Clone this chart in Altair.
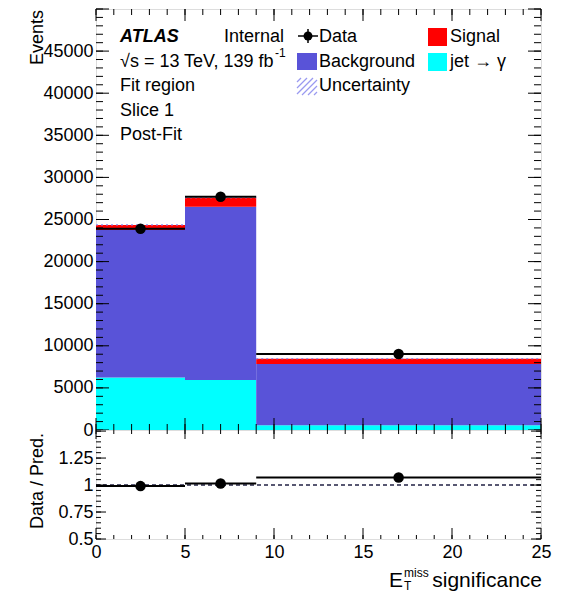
import altair as alt
import pandas as pd
import numpy as np

# ---------------- data ----------------
bin_lo = [0, 5, 9]
bin_hi = [5, 9, 25]
bin_mid = [2.5, 7.0, 17.0]
jet_gamma = [6250, 5940, 560]
background = [17500, 20580, 7280]
signal = [600, 1070, 630]
data_vals = [23900, 27700, 9030]
ratio_vals = [0.99, 1.015, 1.07]

y_major = [0, 5000, 10000, 15000, 20000, 25000, 30000, 35000, 40000, 45000, 50000]
y_minor = list(range(0, 50001, 1000))
y_labels = [0, 5000, 10000, 15000, 20000, 25000, 30000, 35000, 40000, 45000]
x_major = [0, 5, 10, 15, 20, 25]
x_minor = list(range(0, 26))
r_major = [0.5, 0.75, 1.0, 1.25, 1.5]
r_minor = [round(0.5 + 0.05 * i, 2) for i in range(21)]
r_labels = [0.5, 0.75, 1.0, 1.25]

W, H1, H2 = 445, 421, 109
FONT = "Liberation Sans"

comp_names = ["jet \u2192 \u03b3", "Background", "Signal"]
comp_colors = ["#00ffff", "#5953d8", "#ff0000"]

rows = []
for i in range(3):
    base = 0
    for name, vals in zip(comp_names, [jet_gamma, background, signal]):
        rows.append(dict(lo=bin_lo[i], hi=bin_hi[i], y0=base, y1=base + vals[i], comp=name))
        base += vals[i]
stack_df = pd.DataFrame(rows)
tot_df = pd.DataFrame(dict(lo=bin_lo, hi=bin_hi,
                           tot=[a + b + c for a, b, c in zip(jet_gamma, background, signal)]))
data_df = pd.DataFrame(dict(lo=bin_lo, hi=bin_hi, mid=bin_mid, v=data_vals))
ratio_df = pd.DataFrame(dict(lo=bin_lo, hi=bin_hi, mid=bin_mid, r=ratio_vals))
one = pd.DataFrame({"a": [0]})

xsc = alt.Scale(domain=[0, 25], nice=False, zero=False)
ysc = alt.Scale(domain=[0, 50000], nice=False, zero=False)
rsc = alt.Scale(domain=[0.5, 1.51], nice=False, zero=False)

yax = alt.Axis(values=y_labels, ticks=False, tickSize=0, domain=False, grid=False, labelPadding=3,
               labelFontSize=18, labelFont=FONT, labelColor="black", title=None, format="d",
               labelFlush=False, labelOverlap=False)
rax = alt.Axis(values=r_labels, ticks=False, tickSize=0, domain=False, grid=False, labelPadding=3,
               labelFontSize=18, labelFont=FONT, labelColor="black", title=None,
               labelFlush=False, labelOverlap=False, labelExpr="toString(datum.value)")
xax_r = alt.Axis(values=x_major, ticks=False, tickSize=0, domain=False, grid=False, labelPadding=4,
                 labelFontSize=18, labelFont=FONT, labelColor="black", title=None,
                 labelFlush=False, labelOverlap=False)


def text(t, x, y, size=18, align="left", angle=0, style="normal", weight="normal", baseline="alphabetic"):
    return alt.Chart(one).mark_text(text=t, font=FONT, fontSize=size, align=align, baseline=baseline,
                                    angle=angle, fontStyle=style, fontWeight=weight, color="black"
                                    ).encode(x=alt.value(x), y=alt.value(y))


def box(x0, x1, y0, y1, color):
    return alt.Chart(one).mark_rect(fill=color, stroke=None).encode(
        x=alt.value(x0), x2=alt.value(x1), y=alt.value(y0), y2=alt.value(y1))


def yticks(vals, scale, axis, length, side, width):
    df = pd.DataFrame({"v": vals})
    if side == "left":
        xx = dict(x=alt.value(0), x2=alt.value(length))
    else:
        xx = dict(x=alt.value(width - length), x2=alt.value(width))
    return alt.Chart(df).mark_rule(color="black", strokeWidth=1).encode(
        y=alt.Y("v:Q", scale=scale, axis=axis), **xx)


def xticks(vals, axis, length, side, height):
    df = pd.DataFrame({"v": vals})
    if side == "bottom":
        yy = dict(y=alt.value(height - length), y2=alt.value(height))
    else:
        yy = dict(y=alt.value(0), y2=alt.value(length))
    return alt.Chart(df).mark_rule(color="black", strokeWidth=1).encode(
        x=alt.X("v:Q", scale=xsc, axis=axis), **yy)


# ---------------- main panel ----------------
bars = alt.Chart(stack_df).mark_rect(strokeWidth=0).encode(
    x=alt.X("lo:Q", scale=xsc, axis=None), x2="hi:Q",
    y=alt.Y("y0:Q", scale=ysc, axis=yax), y2="y1:Q",
    color=alt.Color("comp:N", scale=alt.Scale(domain=comp_names, range=comp_colors), legend=None))

unc = alt.Chart(tot_df).mark_rule(color="#8f8fef", strokeWidth=1.2, strokeDash=[2, 3]).encode(
    x=alt.X("lo:Q", scale=xsc, axis=None), x2="hi:Q", y=alt.Y("tot:Q", scale=ysc, axis=yax))

dline = alt.Chart(data_df).mark_rule(color="black", strokeWidth=2).encode(
    x=alt.X("lo:Q", scale=xsc, axis=None), x2="hi:Q", y=alt.Y("v:Q", scale=ysc, axis=yax))

dpts = alt.Chart(data_df).mark_circle(color="black", opacity=1, size=110).encode(
    x=alt.X("mid:Q", scale=xsc, axis=None), y=alt.Y("v:Q", scale=ysc, axis=yax))

main_ticks = [
    yticks(y_major, ysc, yax, 13, "left", W), yticks(y_minor, ysc, yax, 7, "left", W),
    yticks(y_major, ysc, yax, 13, "right", W), yticks(y_minor, ysc, yax, 7, "right", W),
    xticks(x_major, None, 12, "bottom", H1), xticks(x_minor, None, 6, "bottom", H1),
    xticks(x_major, None, 12, "top", H1), xticks(x_minor, None, 6, "top", H1),
]

# hatch lines for uncertainty swatch
hx0, hx1, hy0, hy1 = 201, 221, 69, 86
hatch = []
for c in range(hx0 + hy0 + 4, hx1 + hy1, 6):
    xa = max(hx0, c - hy1)
    xb = min(hx1, c - hy0)
    hatch.append(alt.Chart(one).mark_rule(color="#9a9af0", strokeWidth=1.3).encode(
        x=alt.value(xa), x2=alt.value(xb), y=alt.value(c - xa), y2=alt.value(c - xb)))

legend_layers = [
    # Data marker
    alt.Chart(one).mark_rule(color="black", strokeWidth=1.5).encode(
        x=alt.value(202), x2=alt.value(222), y=alt.value(27), y2=alt.value(27)),
    alt.Chart(one).mark_rule(color="black", strokeWidth=1.5).encode(
        x=alt.value(212), x2=alt.value(212), y=alt.value(20), y2=alt.value(34)),
    alt.Chart(one).mark_circle(color="black", opacity=1, size=80).encode(
        x=alt.value(212), y=alt.value(27)),
    text("Data", 223, 32.7),
    box(201, 221, 44, 61, "#5953d8"), text("Background", 223, 57.7),
    text("Uncertainty", 223, 82),
    box(332, 351, 19, 37, "#ff0000"), text("Signal", 354, 32.7),
    box(332, 351, 44, 62, "#00ffff"), text("jet \u2192 \u03b3", 354, 57.7),
    text("ATLAS", 24, 32.7, style="italic", weight="bold"),
    text("Internal", 128, 32.7),
    text("\u221as = 13 TeV, 139 fb", 24, 57.7),
    text("-1", 179, 48, size=12),
    text("Fit region", 24, 82),
    text("Slice 1", 24, 106.7),
    text("Post-Fit", 24, 131.4),
    text("Events", -53, 1, angle=270, align="right"),
    # spacer fixing the left edge of the chart
    alt.Chart(one).mark_rule(opacity=0).encode(
        x=alt.value(-87), x2=alt.value(-87), y=alt.value(5), y2=alt.value(10)),
]

main = alt.layer(bars, unc, dline, dpts, *main_ticks, *hatch, *legend_layers).properties(
    width=W, height=H1)

# ---------------- ratio panel ----------------
one_df = pd.DataFrame({"v": [1.0]})
ref_line = alt.Chart(one_df).mark_rule(color="#222244", strokeWidth=1.6, strokeDash=[4, 3]).encode(
    y=alt.Y("v:Q", scale=rsc, axis=rax), x=alt.value(0), x2=alt.value(W))
rline = alt.Chart(ratio_df).mark_rule(color="black", strokeWidth=2).encode(
    x=alt.X("lo:Q", scale=xsc, axis=xax_r), x2="hi:Q", y=alt.Y("r:Q", scale=rsc, axis=rax))
rpts = alt.Chart(ratio_df).mark_circle(color="black", opacity=1, size=110).encode(
    x=alt.X("mid:Q", scale=xsc, axis=xax_r), y=alt.Y("r:Q", scale=rsc, axis=rax))

ratio_ticks = [
    yticks(r_major, rsc, rax, 10, "left", W), yticks(r_minor, rsc, rax, 5, "left", W),
    yticks(r_major, rsc, rax, 10, "right", W), yticks(r_minor, rsc, rax, 5, "right", W),
    xticks(x_major, xax_r, 11, "bottom", H2), xticks(x_minor, xax_r, 4, "bottom", H2),
    xticks(x_major, xax_r, 9, "top", H2), xticks(x_minor, xax_r, 4, "top", H2),
]

ratio_text = [
    text("Data / Pred.", -53, 51, angle=270, align="center"),
    text("E", 293, 157, size=21),
    text("miss", 308, 147, size=12),
    text("T", 308, 160, size=12),
    text("significance", 446, 157, size=21, align="right"),
]

ratio = alt.layer(ref_line, rline, rpts, *ratio_ticks, *ratio_text).properties(width=W, height=H2)

chart = alt.vconcat(main, ratio, spacing=0, bounds="flush").properties(
    padding={"left": 0, "top": 0, "right": 5, "bottom": 0}
).configure_view(stroke="black", strokeWidth=1).configure(background="white")

chart.save("out.html", embed_options={"renderer": "svg", "actions": False})
